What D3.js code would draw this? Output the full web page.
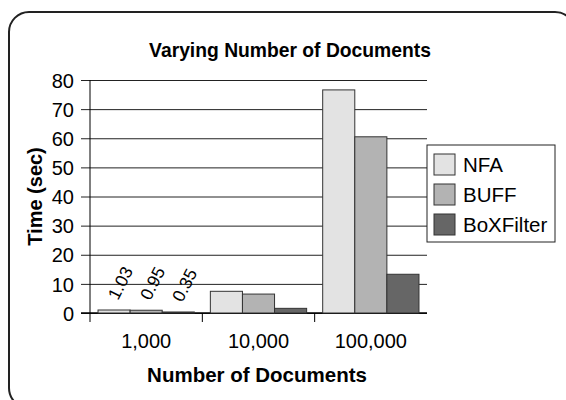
<!DOCTYPE html>
<html lang="en">
	<head>
		<meta charset="utf-8">
		<title>Varying Number of Documents</title>
		<script type="text/javascript" src="https://d3js.org/d3.v7.min.js"></script>
		<style type="text/css">
			body { margin: 0; background: #fff; }
			text { font-family: "Liberation Sans", Arial, sans-serif; fill: #000; }
		</style>
	</head>
	<body>
		<script type="text/javascript">

			var categories = ["1,000", "10,000", "100,000"];
			var seriesNames = ["NFA", "BUFF", "BoXFilter"];
			var nfa = [1.03, 7.45, 76.6];
			var buff = [0.95, 6.5, 60.5];
			var boxFilter = [0.35, 1.6, 13.3];
			var yTicks = [0, 10, 20, 30, 40, 50, 60, 70, 80];
			var labelled = ["1,000"]; // only the first group has value labels

			var colors = ["#e3e3e3", "#b3b3b3", "#666666"];
			var series = [nfa, buff, boxFilter];

			var w = 566;
			var h = 400;
			var plotLeft = 90, plotRight = 427, plotTop = 80, plotBottom = 313;

			var svg = d3.select("body")
						.append("svg")
						.attr("width", w)
						.attr("height", h);

			// rounded frame, runs off the bottom/right edge
			svg.append("rect")
				.attr("x", 9).attr("y", 12)
				.attr("width", 566).attr("height", 396)
				.attr("rx", 20)
				.attr("fill", "none")
				.attr("stroke", "#222")
				.attr("stroke-width", 2);

			var x0 = d3.scaleBand().domain(categories).range([plotLeft, plotRight]).padding(0);
			var x1 = d3.scaleBand().domain(seriesNames).range([0, x0.bandwidth()]).paddingOuter(0.25).paddingInner(0);
			var y = d3.scaleLinear().domain([0, 80]).range([plotBottom, plotTop]);

			// gridlines + y ticks
			var yAxis = d3.axisLeft(y).tickValues(yTicks).tickSize(-(plotRight - plotLeft)).tickSizeOuter(0);
			var gy = svg.append("g").attr("transform", "translate(" + plotLeft + ",0)").call(yAxis);
			gy.select(".domain").remove();
			gy.selectAll(".tick line").attr("x1", -9).attr("stroke", "#222");
			gy.selectAll(".tick text")
				.attr("x", -16)
				.attr("dy", "0.36em")
				.style("font-size", "20px")
				.attr("font-family", "Liberation Sans, Arial, sans-serif");

			// y axis line
			svg.append("line")
				.attr("x1", plotLeft).attr("x2", plotLeft)
				.attr("y1", plotTop).attr("y2", plotBottom + 9)
				.attr("stroke", "#000");

			// category axis
			var xAxis = d3.axisBottom(x0).tickSize(0).tickSizeOuter(0);
			var gx = svg.append("g").attr("transform", "translate(0," + plotBottom + ")").call(xAxis);
			gx.select(".domain").remove();
			gx.selectAll(".tick text")
				.attr("y", 35)
				.attr("dy", null)
				.style("font-size", "20px")
				.attr("font-family", "Liberation Sans, Arial, sans-serif");

			svg.append("line")
				.attr("x1", plotLeft - 9).attr("x2", plotRight)
				.attr("y1", plotBottom).attr("y2", plotBottom)
				.attr("stroke", "#000").attr("stroke-width", 1.5);

			// ticks between categories
			svg.selectAll("line.sep")
				.data(categories.slice(1))
				.enter()
				.append("line")
				.attr("class", "sep")
				.attr("x1", function(d) { return x0(d); })
				.attr("x2", function(d) { return x0(d); })
				.attr("y1", plotBottom).attr("y2", plotBottom + 9)
				.attr("stroke", "#000");

			// bars
			var groups = svg.selectAll("g.grp")
				.data(categories)
				.enter()
				.append("g")
				.attr("class", "grp")
				.attr("transform", function(d) { return "translate(" + x0(d) + ",0)"; });

			groups.selectAll("rect")
				.data(function(d, i) {
					return seriesNames.map(function(s, j) { return { cat: d, s: s, j: j, v: series[j][i] }; });
				})
				.enter()
				.append("rect")
				.attr("x", function(d) { return x1(d.s); })
				.attr("y", function(d) { return y(d.v); })
				.attr("width", x1.bandwidth())
				.attr("height", function(d) { return y(0) - y(d.v); })
				.attr("fill", function(d) { return colors[d.j]; })
				.attr("stroke", "#333")
				.attr("stroke-width", 1);

			groups.filter(function(d) { return labelled.indexOf(d) >= 0; })
				.selectAll("text.val")
				.data(function(d) {
					var i = categories.indexOf(d);
					return seriesNames.map(function(s, j) { return { s: s, j: j, v: series[j][i] }; });
				})
				.enter()
				.append("text")
				.attr("class", "val")
				.text(function(d) { return d.v.toFixed(2); })
				.style("font-size", "17.5px")
				.attr("transform", function(d) {
					var cx = x1(d.s) + x1.bandwidth() / 2 + 4;
					var cy = y(d.v) - 9;
					return "translate(" + cx + "," + cy + ") rotate(-63)";
				});

			// titles
			svg.append("text")
				.attr("x", 290).attr("y", 57)
				.attr("text-anchor", "middle")
				.style("font-size", "19.3px")
				.style("font-weight", "bold")
				.text("Varying Number of Documents");

			svg.append("text")
				.attr("x", 257).attr("y", 382)
				.attr("text-anchor", "middle")
				.style("font-size", "20.5px")
				.style("font-weight", "bold")
				.text("Number of Documents");

			svg.append("text")
				.attr("transform", "translate(42," + ((plotTop + plotBottom) / 2) + ") rotate(-90)")
				.attr("text-anchor", "middle")
				.style("font-size", "20px")
				.style("font-weight", "bold")
				.text("Time (sec)");

			// legend
			var lg = svg.append("g").attr("transform", "translate(427,145)");
			lg.append("rect")
				.attr("width", 128).attr("height", 97)
				.attr("fill", "#fff").attr("stroke", "#222");
			var items = lg.selectAll("g.item")
				.data(seriesNames)
				.enter()
				.append("g")
				.attr("transform", function(d, i) { return "translate(7," + (9 + i * 30) + ")"; });
			items.append("rect")
				.attr("width", 21).attr("height", 21)
				.attr("fill", function(d, i) { return colors[i]; })
				.attr("stroke", "#333");
			items.append("text")
				.attr("x", 29).attr("y", 18)
				.style("font-size", "20.5px")
				.text(function(d) { return d; });

		</script>
	</body>
</html>
